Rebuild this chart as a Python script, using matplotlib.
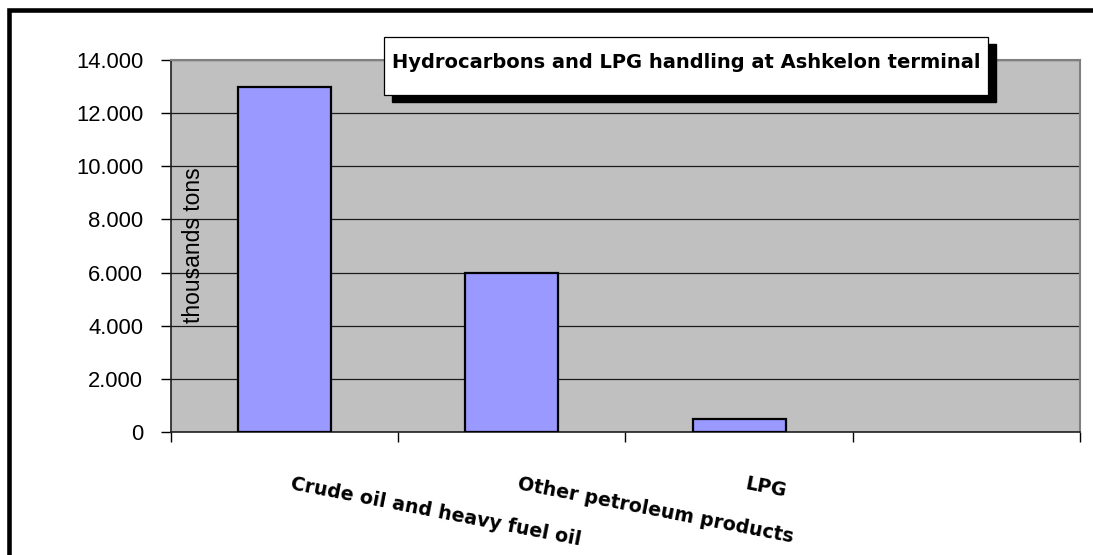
import numpy as np
import matplotlib
matplotlib.use("Agg")
import matplotlib.pyplot as plt
from matplotlib.patches import Rectangle
from matplotlib.ticker import FuncFormatter, MultipleLocator

# data (thousands tons)
categories = ["Crude oil and heavy fuel oil", "Other petroleum products", "LPG", ""]
values = [13000, 6000, 500, 0]
title = "Hydrocarbons and LPG handling at Ashkelon terminal"
ylabel = "thousands tons"

W, H = 1093, 555
fig = plt.figure(figsize=(W / 100, H / 100), dpi=100)
fig.patch.set_facecolor("white")

def fx(px):
    return px / W

def fy(py):
    return 1 - py / H

ax = fig.add_axes([fx(171), fy(432), fx(1080) - fx(171), fy(60) - fy(432)])
ax.set_facecolor("#C0C0C0")

x = np.arange(len(categories))
ax.bar(x[:3], values[:3], width=0.41, color="#9999FF", edgecolor="black",
       linewidth=1.6, zorder=3)

ax.set_xlim(-0.5, len(categories) - 0.5)
ax.set_ylim(0, 14000)
ax.yaxis.set_major_locator(MultipleLocator(2000))
ax.yaxis.set_major_formatter(FuncFormatter(
    lambda v, p: "0" if v == 0 else f"{int(v):,}".replace(",", ".")))
ax.grid(axis="y", color="#1a1a1a", linewidth=0.9, zorder=1)
ax.set_axisbelow(True)

# category boundaries as tick marks, names drawn separately
ax.set_xticks(np.arange(len(categories) + 1) - 0.5)
ax.set_xticklabels([])
ax.tick_params(axis="x", length=7, width=1, color="black")
ax.tick_params(axis="y", length=7, width=1, color="black", pad=13,
               labelsize=15.8)
for lab in ax.get_yticklabels():
    lab.set_fontfamily("Liberation Sans")

for s in ["left", "bottom"]:
    ax.spines[s].set_color("#202020")
    ax.spines[s].set_linewidth(1.2)
for s in ["top", "right"]:
    ax.spines[s].set_color("#808080")
    ax.spines[s].set_linewidth(1.5)

ax.set_ylabel(ylabel, fontsize=16.5, family="Liberation Sans", va="center")
ax.yaxis.set_label_coords((194 - 171) / 909, (432 - 245) / 372)

trans = matplotlib.transforms.blended_transform_factory(ax.transData, ax.transAxes)
for i, name in enumerate(categories):
    if name:
        ax.text(i + 0.035, -0.113, name, transform=trans, rotation=-11,
                rotation_mode="anchor", ha="left", va="top", fontsize=13.7,
                fontweight="bold", family="DejaVu Sans")

# outer chart frame (cropped at right and bottom)
fig.add_artist(Rectangle((fx(9), fy(600)), 1.2, fy(10) - fy(600),
                         transform=fig.transFigure, fill=False,
                         edgecolor="black", linewidth=3.3, zorder=6))

# title box with shadow
fig.add_artist(Rectangle((fx(392), fy(102)), fx(996) - fx(392), fy(44) - fy(102),
                         transform=fig.transFigure, facecolor="black",
                         edgecolor="black", zorder=7))
fig.add_artist(Rectangle((fx(384), fy(95)), fx(988) - fx(384), fy(37) - fy(95),
                         transform=fig.transFigure, facecolor="white",
                         edgecolor="black", linewidth=0.9, zorder=8))
fig.text(fx(686), fy(62), title, ha="center", va="center", fontsize=14,
         fontweight="bold", family="DejaVu Sans", zorder=9)

fig.savefig("out.png", dpi=100)
